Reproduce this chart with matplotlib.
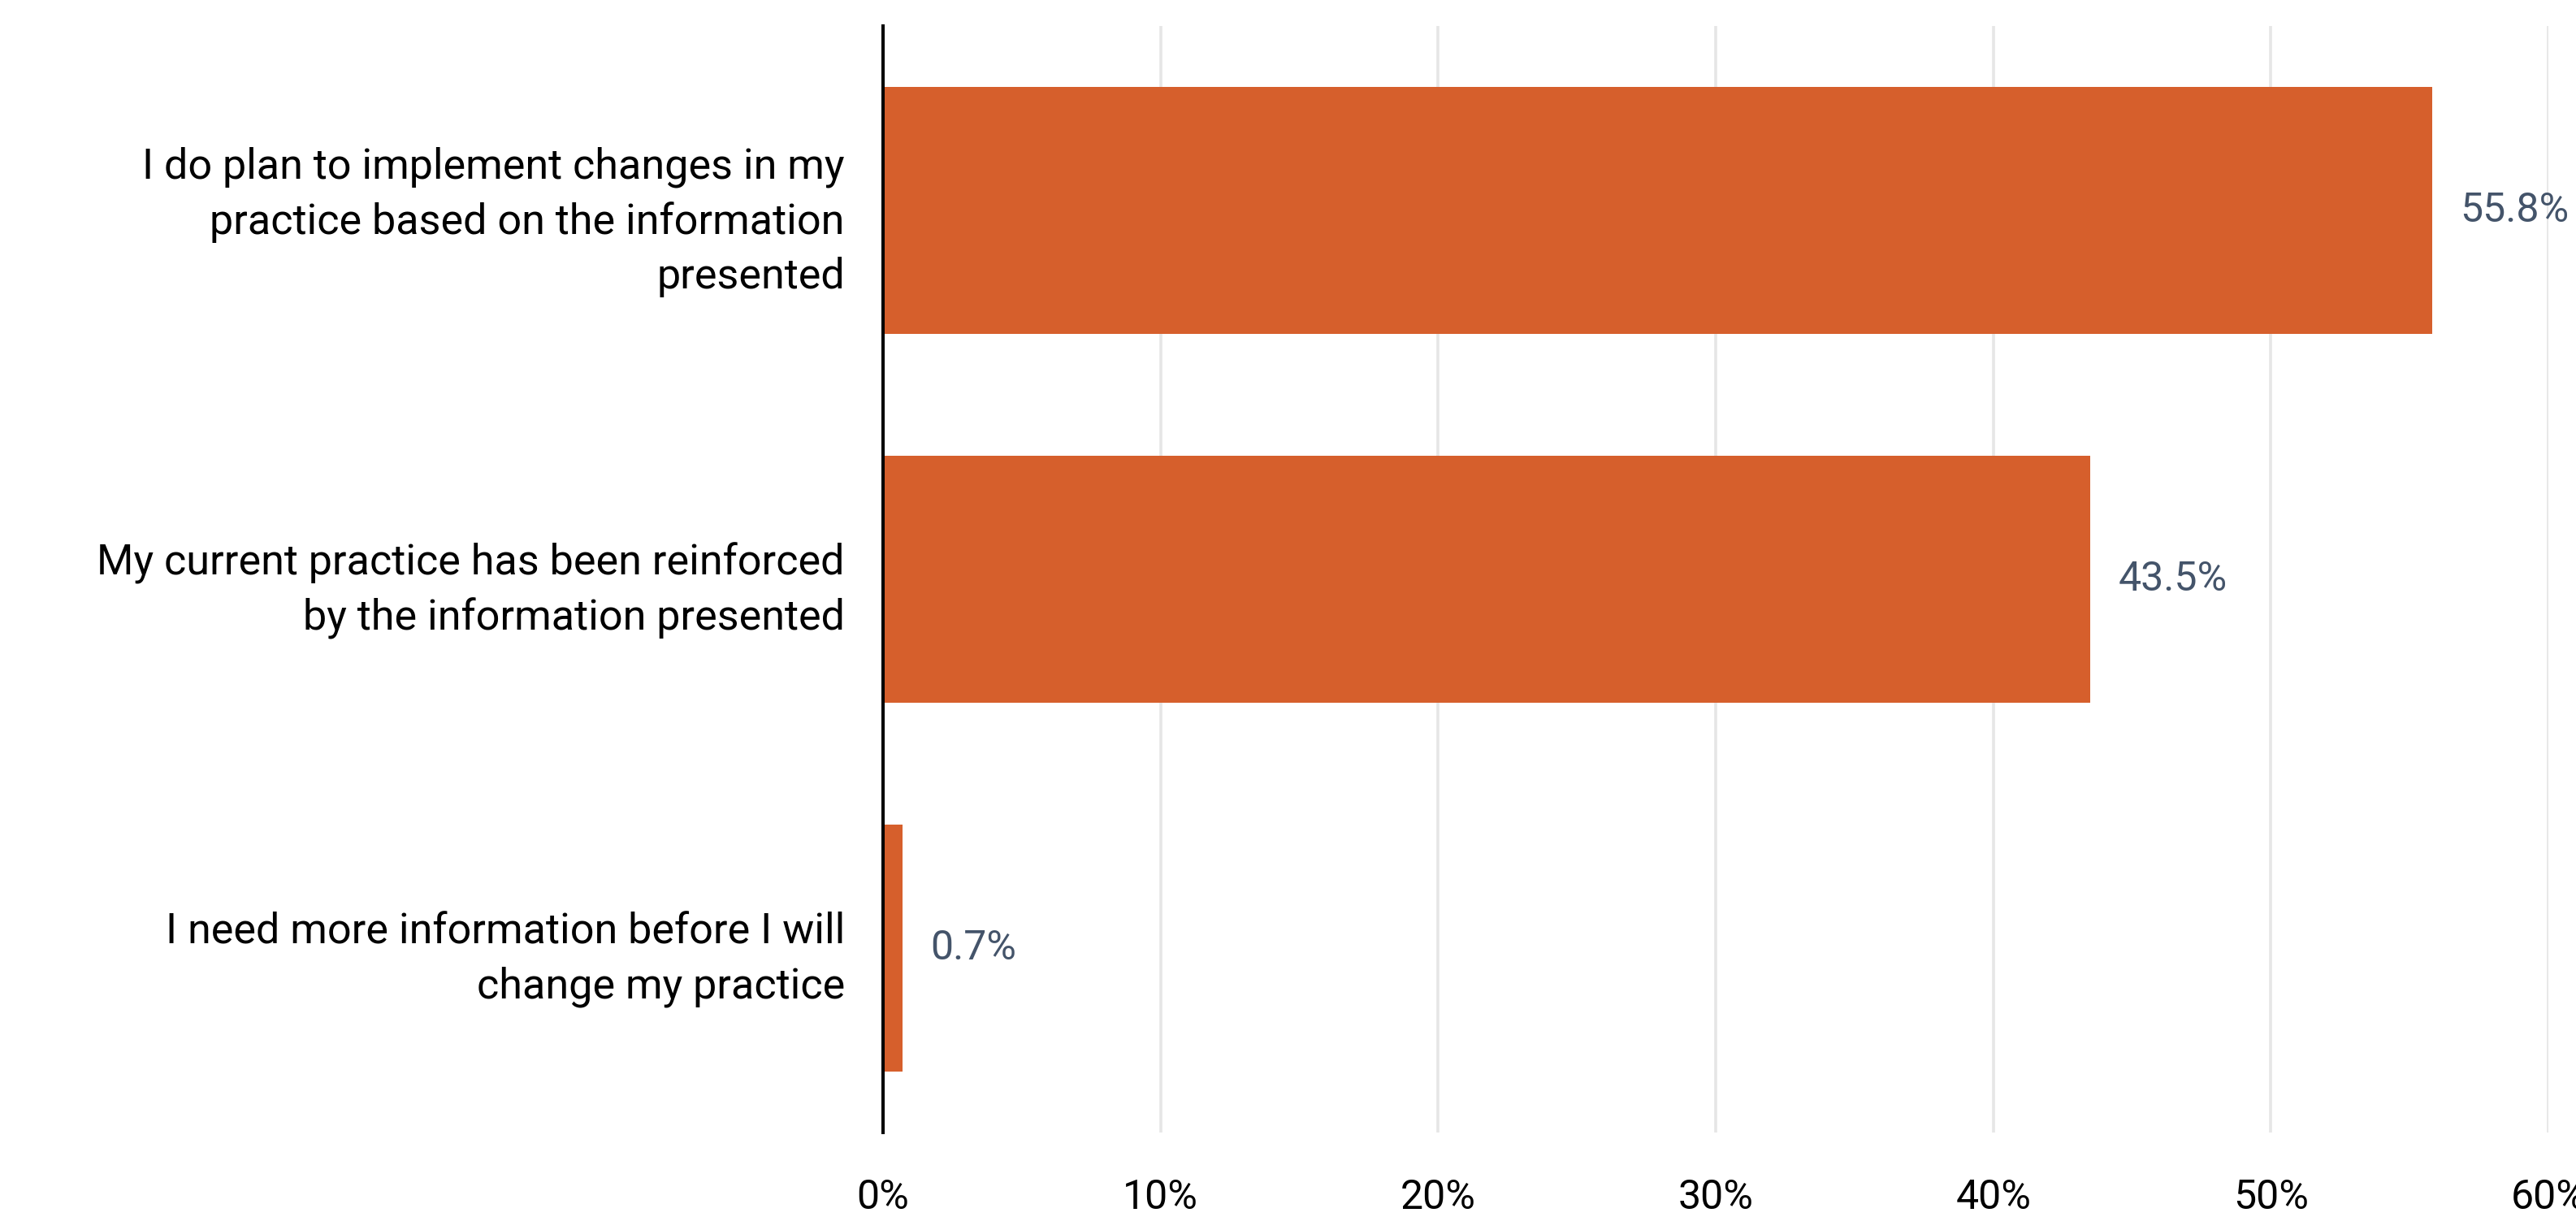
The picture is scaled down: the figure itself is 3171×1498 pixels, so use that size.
import matplotlib
matplotlib.use("Agg")
import matplotlib.pyplot as plt
from matplotlib.ticker import FuncFormatter

categories = [
    "I do plan to implement changes in my\npractice based on the information\npresented",
    "My current practice has been reinforced\nby the information presented",
    "I need more information before I will\nchange my practice",
]
values = [0.558, 0.435, 0.007]
value_labels = ["55.8%", "43.5%", "0.7%"]
x_ticks = [0.0, 0.1, 0.2, 0.3, 0.4, 0.5, 0.6]

BAR = "#D65F2C"
LABEL = "#44546A"
plt.rcParams["font.family"] = ["Roboto", "DejaVu Sans"]

fig = plt.figure(figsize=(31.71, 14.98), dpi=100)
ax = fig.add_axes([0.3428, 0.0694, 0.9893 - 0.3428, 0.9786 - 0.0694])

ypos = list(range(len(categories)))
bars = ax.barh(ypos, values, height=0.67, color=BAR, zorder=3)
ax.set_ylim(2.5, -0.5)
ax.set_xlim(0, 0.6)
ax.set_yticks(ypos)
ax.set_yticklabels(categories, fontsize=37.5, linespacing=1.43, ha="right")
ax.set_xticks(x_ticks)
ax.xaxis.set_major_formatter(FuncFormatter(lambda v, p: f"{v*100:.0f}%"))
ax.tick_params(axis="x", length=0, pad=40, labelsize=36)
ax.tick_params(axis="y", length=0, pad=34)

ax.grid(axis="x", color="#E6E6E6", linewidth=2.6, zorder=0)
ax.grid(axis="y", visible=False)
for s in ["top", "right", "bottom"]:
    ax.spines[s].set_visible(False)
ax.spines["left"].set_color("black")
ax.spines["left"].set_linewidth(2.9)
ax.spines["left"].set_zorder(4)

for b, lab in zip(bars, value_labels):
    ax.annotate(lab, (b.get_width(), b.get_y() + b.get_height() / 2),
                xytext=(25, 0), textcoords="offset points",
                va="center", ha="left", fontsize=36, color=LABEL)

fig.savefig("out.png", dpi=100)
